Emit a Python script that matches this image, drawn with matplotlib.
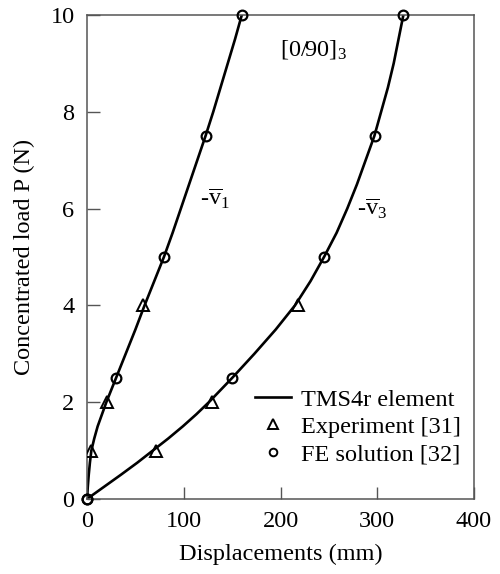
import matplotlib
matplotlib.use("Agg")
import matplotlib.pyplot as plt
from matplotlib.lines import Line2D

plt.rcParams["font.family"] = ["Liberation Serif", "DejaVu Serif"]
plt.rcParams["mathtext.fontset"] = "custom"
plt.rcParams["mathtext.rm"] = "Liberation Serif"
plt.rcParams["mathtext.it"] = "Liberation Serif:italic"

# TMS4r element curves
load_curve = [0, 0.25, 0.5, 0.75, 1, 1.25, 1.5, 1.75, 2, 2.5, 3, 3.5, 4, 4.5, 5,
              5.5, 6, 6.5, 7, 7.5, 8, 8.5, 9, 9.5, 10]
v1_curve = [0, 0.8, 1.8, 3, 4.5, 7.5, 11, 15.5, 20, 30, 40, 50, 59.5, 69.5, 79.5,
            88.5, 97, 105.5, 114, 122.5, 130.5, 138, 145.5, 153, 160]
v3_curve = [0, 17.5, 35, 52, 68, 84, 99, 113, 126, 150, 173, 195, 215, 231, 245,
            258, 269, 279, 288, 297, 304, 311, 317, 322, 327]

# Experiment [31]
exp_load = [1, 2, 4]
exp_v1 = [4, 21, 58]
exp_v3 = [71, 129, 218]

# FE solution [32]
fe_load = [0, 2.5, 5, 7.5, 10]
fe_v1 = [0, 30, 80, 123, 160]
fe_v3 = [0, 150, 245, 298, 327]

fs = 17.5

fig = plt.figure(figsize=(5.0, 5.74), dpi=100)
ax = fig.add_axes([0.174, 0.1307, 0.774, 0.8432])

ax.plot(v1_curve, load_curve, color="black", lw=1.9, zorder=2)
ax.plot(v3_curve, load_curve, color="black", lw=1.9, zorder=2)
ax.plot(exp_v1, exp_load, "^", ms=9, mfc="none", mec="black", mew=1.4, zorder=3)
ax.plot(exp_v3, exp_load, "^", ms=9, mfc="none", mec="black", mew=1.4, zorder=3)
ax.plot(fe_v1, fe_load, "o", ms=7, mfc="none", mec="black", mew=1.6, zorder=3, clip_on=False)
ax.plot(fe_v3, fe_load, "o", ms=7, mfc="none", mec="black", mew=1.6, zorder=3, clip_on=False)

ax.set_xlim(0, 400)
ax.set_ylim(0, 10)
ax.set_xticks([0, 100, 200, 300, 400])
ax.set_yticks([0, 2, 4, 6, 8, 10])
ax.tick_params(direction="in", length=9, width=1, colors="#555555",
               labelcolor="black", labelsize=fs, pad=9,
               top=False, right=False)
for s in ax.spines.values():
    s.set_color("#555555")
    s.set_linewidth(1.1)

ax.set_xlabel("Displacements (mm)", fontsize=fs, labelpad=8)
ax.set_ylabel("Concentrated load P (N)", fontsize=fs, labelpad=11)

ax.text(199, 9.28, r"[0/90]$_{\mathrm{3}}$", fontsize=fs, va="center", ha="left")
ax.text(117, 6.2, r"-$\mathrm{\overline{v}_1}$", fontsize=fs, va="center", ha="left")
ax.text(279, 6.0, r"-$\mathrm{\overline{v}_3}$", fontsize=fs, va="center", ha="left")

handles = [
    Line2D([], [], color="black", lw=1.9),
    Line2D([], [], ls="none", marker="^", ms=6.5, mfc="none", mec="black", mew=1.4),
    Line2D([], [], ls="none", marker="o", ms=5.5, mfc="none", mec="black", mew=1.4),
]
labels = ["TMS4r element", "Experiment [31]", "FE solution [32]"]
ax.legend(handles, labels, loc="lower right", bbox_to_anchor=(0.966, 0.070),
          frameon=False, fontsize=fs, borderpad=0, borderaxespad=0,
          handlelength=1.5, handletextpad=0.4, labelspacing=0.21)

fig.savefig("out.png", dpi=100)
